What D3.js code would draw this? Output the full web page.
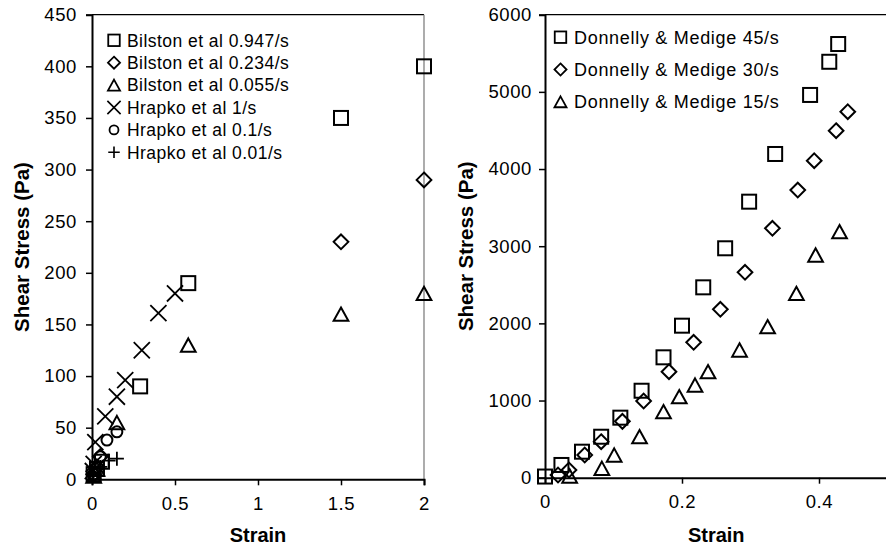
<!DOCTYPE html>
<html><head><meta charset="utf-8">
<script src="https://cdn.jsdelivr.net/npm/d3@7"></script>
<style>body{margin:0;background:#fff}svg{display:block}text{font-family:"Liberation Sans",Arial,sans-serif;fill:#000}</style>
</head><body><svg id="c" width="886" height="547"></svg>
<script>
// ---- Left chart data (strain, shear stress Pa) ----
const leftNames = ["Bilston et al 0.947/s","Bilston et al 0.234/s","Bilston et al 0.055/s","Hrapko et al 1/s","Hrapko et al 0.1/s","Hrapko et al 0.01/s"];
const leftShapes = ["square","diamond","triangle","cross","circle","plus"];
const bil947X = [0.01,0.03,0.06,0.29,0.58,1.5,2];
const bil947Y = [5,10,17,90,190,350,400];
const bil234X = [0.01,0.03,0.05,1.5,2];
const bil234Y = [5,12,22,230,290];
const bil055X = [0.01,0.03,0.15,0.58,1.5,2];
const bil055Y = [3,10,55,130,160,180];
const hr1X = [0.005,0.01,0.02,0.08,0.15,0.2,0.3,0.4,0.5];
const hr1Y = [8,15,36,61,80,96,125,161,180];
const hr01X = [0.01,0.03,0.05,0.09,0.15];
const hr01Y = [5,12,22,38,46];
const hr001X = [0.01,0.05,0.1,0.15];
const hr001Y = [5,12,18,20];
const leftX = [bil947X,bil234X,bil055X,hr1X,hr01X,hr001X];
const leftY = [bil947Y,bil234Y,bil055Y,hr1Y,hr01Y,hr001Y];
const leftXTicks = [0,0.5,1,1.5,2];
const leftXTickLabels = ["0","0.5","1","1.5","2"];
const leftYTicks = [0,50,100,150,200,250,300,350,400,450];

// ---- Right chart data ----
const rightNames = ["Donnelly & Medige 45/s","Donnelly & Medige 30/s","Donnelly & Medige 15/s"];
const rightShapes = ["square","diamond","triangle"];
const dm45X = [0,0.024,0.054,0.082,0.11,0.141,0.173,0.2,0.231,0.263,0.298,0.336,0.387,0.415,0.428];
const dm45Y = [15,165,337,531,778,1127,1560,1970,2467,2973,3577,4195,4960,5390,5620];
const dm30X = [0.019,0.035,0.058,0.082,0.113,0.144,0.181,0.217,0.256,0.292,0.332,0.369,0.393,0.425,0.442];
const dm30Y = [35,100,294,467,730,994,1374,1755,2182,2662,3232,3728,4108,4497,4743];
const dm15X = [0.036,0.083,0.101,0.138,0.173,0.196,0.219,0.238,0.284,0.325,0.367,0.395,0.43];
const dm15Y = [22,122,294,531,855,1050,1201,1374,1655,1957,2389,2886,3188];
const rightX = [dm45X,dm30X,dm15X];
const rightY = [dm45Y,dm30Y,dm15Y];
const rightXTicks = [0,0.2,0.4];
const rightXTickLabels = ["0","0.2","0.4"];
const rightYTicks = [0,1000,2000,3000,4000,5000,6000];

const svg = d3.select("#c");

function marker(g, shape, cx, cy, s, sw){
  const h = s/2;
  if(shape==="square"){
    g.append("rect").attr("x",cx-h).attr("y",cy-h).attr("width",s).attr("height",s)
      .attr("fill","none").attr("stroke","#000").attr("stroke-width",sw);
  } else if(shape==="diamond"){
    const d=h*1.05;
    g.append("path").attr("d",`M${cx},${cy-d}L${cx+d},${cy}L${cx},${cy+d}L${cx-d},${cy}Z`)
      .attr("fill","none").attr("stroke","#000").attr("stroke-width",sw);
  } else if(shape==="triangle"){
    const w=h*1.05, t=h*0.95;
    g.append("path").attr("d",`M${cx},${cy-t}L${cx+w},${cy+t}L${cx-w},${cy+t}Z`)
      .attr("fill","none").attr("stroke","#000").attr("stroke-width",sw).attr("stroke-linejoin","miter");
  } else if(shape==="cross"){
    const c=h*1.15;
    g.append("path").attr("d",`M${cx-c},${cy-c}L${cx+c},${cy+c}M${cx-c},${cy+c}L${cx+c},${cy-c}`)
      .attr("fill","none").attr("stroke","#000").attr("stroke-width",sw*0.9);
  } else if(shape==="circle"){
    g.append("circle").attr("cx",cx).attr("cy",cy).attr("r",h*0.78)
      .attr("fill","none").attr("stroke","#000").attr("stroke-width",sw);
  } else if(shape==="plus"){
    const c=h*1.0;
    g.append("path").attr("d",`M${cx-c},${cy}L${cx+c},${cy}M${cx},${cy-c}L${cx},${cy+c}`)
      .attr("fill","none").attr("stroke","#000").attr("stroke-width",sw*0.9);
  }
}

function panel(opt){
  const g = svg.append("g");
  const x = d3.scaleLinear().domain(opt.xDomain).range([opt.x0,opt.x1]);
  const y = d3.scaleLinear().domain(opt.yDomain).range([opt.y0,opt.y1]);
  // frame
  g.append("line").attr("x1",opt.x0).attr("x2",opt.frameRight).attr("y1",opt.y1).attr("y2",opt.y1)
    .attr("stroke","#000").attr("stroke-width",1.3);
  if(opt.rightBorder){
    g.append("line").attr("x1",opt.x1).attr("x2",opt.x1).attr("y1",opt.y1).attr("y2",opt.y0)
      .attr("stroke","#808080").attr("stroke-width",1.3);
  }
  const xa = d3.axisBottom(x).tickValues(opt.xTicks).tickFormat((d,i)=>opt.xTickLabels[i]).tickSizeOuter(0).tickSize(6).tickPadding(7);
  const gx = g.append("g").attr("transform",`translate(0,${opt.y0})`).call(xa);
  const ya = d3.axisLeft(y).tickValues(opt.yTicks).tickFormat(d3.format("d")).tickSizeOuter(0).tickSize(6).tickPadding(opt.yPad);
  const gy = g.append("g").attr("transform",`translate(${opt.x0},0)`).call(ya);
  [gx,gy].forEach(a=>{
    a.select(".domain").attr("stroke","#000").attr("stroke-width",2);
    a.selectAll(".tick line").attr("stroke","#000").attr("stroke-width",1.5);
    a.selectAll(".tick text").style("font-family",'"Liberation Sans",Arial,sans-serif').style("font-size","18.5px")
      .style("letter-spacing","0.6px").attr("fill","#000");
  });
  gx.selectAll(".tick text").attr("dy","0.95em");
  // axis titles
  g.append("text").attr("x",(opt.x0+opt.x1)/2).attr("y",541.5).attr("text-anchor","middle")
    .style("font-size","20px").style("font-weight","bold").text("Strain");
  g.append("text").attr("transform",`translate(${opt.titleX},${(opt.y0+opt.y1)/2}) rotate(-90)`)
    .attr("text-anchor","middle").style("font-size","20.5px").style("font-weight","bold").text("Shear Stress (Pa)");
  // points
  const pg = g.append("g");
  opt.xs.forEach((xs,si)=>{
    xs.forEach((xv,i)=>{ marker(pg, opt.shapes[si], x(xv), y(opt.ys[si][i]), opt.ms, 2); });
  });
  // legend
  const lg = g.append("g");
  opt.names.forEach((n,i)=>{
    const cy = opt.legY0 + i*opt.legDy;
    marker(lg, opt.shapes[i], opt.legX, cy, 11.5, 1.8);
    lg.append("text").attr("x",opt.legX+opt.legTx).attr("y",cy).attr("dy","0.36em")
      .style("font-size",opt.legFont).style("letter-spacing",opt.legLS).text(n);
  });
}

panel({xDomain:[0,2],yDomain:[0,450],x0:92,x1:424,y0:479.3,y1:14.7,frameRight:424,rightBorder:true,
  xTicks:leftXTicks,xTickLabels:leftXTickLabels,yTicks:leftYTicks,yPad:9,titleX:28.5,
  xs:leftX,ys:leftY,shapes:leftShapes,names:leftNames,ms:14,
  legX:114,legY0:40.3,legDy:22.4,legTx:13,legFont:"17.5px",legLS:"0.45px"});

panel({xDomain:[0,0.5],yDomain:[0,6000],x0:545,x1:887.5,y0:477.7,y1:14.7,frameRight:887.5,rightBorder:false,
  xTicks:rightXTicks,xTickLabels:rightXTickLabels,yTicks:rightYTicks,yPad:7,titleX:473,
  xs:rightX,ys:rightY,shapes:rightShapes,names:rightNames,ms:14,
  legX:560.5,legY0:37.2,legDy:32.3,legTx:13.5,legFont:"18px",legLS:"0.7px"});
</script></body></html>
